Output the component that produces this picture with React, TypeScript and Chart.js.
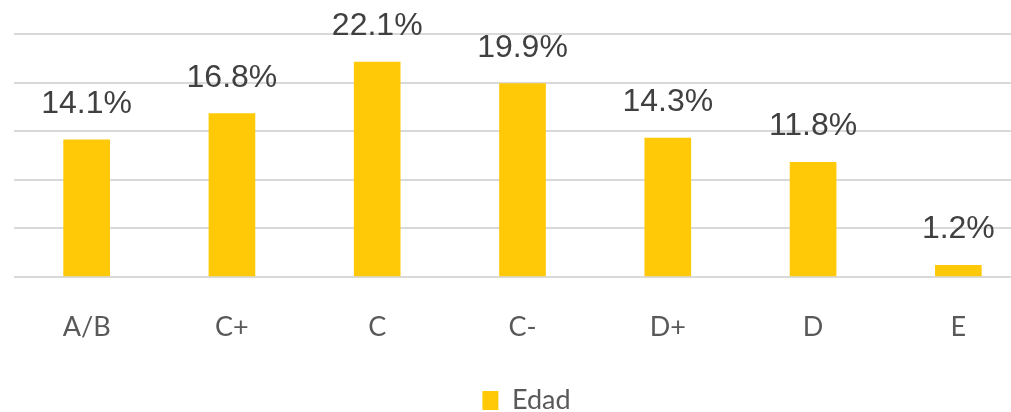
import React, { useEffect, useRef } from "react";
import { Chart, registerables } from "chart.js";

Chart.register(...registerables);

const categories = ["A/B", "C+", "C", "C-", "D+", "D", "E"];
const edadValues = [14.1, 16.8, 22.1, 19.9, 14.3, 11.8, 1.2];
const yTicks = [0, 5, 10, 15, 20, 25];
const seriesName = "Edad";

const valueLabels = {
  id: "valueLabels",
  afterDatasetsDraw(chart: any) {
    const ctx = chart.ctx;
    const meta = chart.getDatasetMeta(0);
    const data = chart.data.datasets[0].data as number[];
    ctx.save();
    ctx.font = "32px 'Liberation Sans', Arial, sans-serif";
    ctx.fillStyle = "#404040";
    ctx.textAlign = "center";
    ctx.textBaseline = "alphabetic";
    meta.data.forEach((bar: any, i: number) => {
      ctx.fillText(data[i].toFixed(1) + "%", bar.x, bar.y - 27);
    });
    ctx.restore();
  },
};

const legendShift = {
  id: "legendShift",
  afterLayout(chart: any) {
    if (chart.legend) {
      chart.legend.left += 4;
      chart.legend.right += 4;
    }
  },
};

export default function App() {
  const canvasRef = useRef<HTMLCanvasElement | null>(null);

  useEffect(() => {
    if (!canvasRef.current) return;
    const chart = new Chart(canvasRef.current, {
      type: "bar",
      data: {
        labels: categories,
        datasets: [
          {
            label: seriesName,
            data: edadValues,
            backgroundColor: "#FFC908",
            borderWidth: 0,
            barThickness: 46,
          },
        ],
      },
      options: {
        animation: false,
        responsive: true,
        maintainAspectRatio: false,
        layout: { padding: { left: 14, right: 25, top: 34, bottom: 0 } },
        plugins: {
          tooltip: { enabled: false },
          legend: {
            position: "bottom",
            labels: {
              boxWidth: 16,
              boxHeight: 19,
              padding: 10,
              color: "#595959",
              font: { family: "Lato, 'Open Sans', sans-serif", size: 27 },
            },
          },
        },
        scales: {
          x: {
            grid: { display: false, drawTicks: false },
            border: { display: false },
            afterFit: (s: any) => {
              s.height = 100;
            },
            ticks: {
              color: "#595959",
              padding: 34,
              font: { family: "Lato, 'Open Sans', sans-serif", size: 27 },
            },
          },
          y: {
            min: yTicks[0],
            max: yTicks[yTicks.length - 1],
            afterBuildTicks: (s: any) => {
              s.ticks = yTicks.map((v) => ({ value: v }));
            },
            grid: { color: "#D9D9D9", lineWidth: 2, drawTicks: false },
            border: { display: false },
            ticks: { display: false },
          },
        },
      },
      plugins: [valueLabels, legendShift],
    });
    return () => chart.destroy();
  }, []);

  return (
    <div
      style={{
        position: "absolute",
        left: 0,
        top: 0,
        width: 1011,
        height: 412,
        overflow: "hidden",
        background: "#ffffff",
      }}
    >
      <div style={{ position: "relative", width: 1056, height: 424 }}>
        <canvas ref={canvasRef} />
      </div>
    </div>
  );
}
